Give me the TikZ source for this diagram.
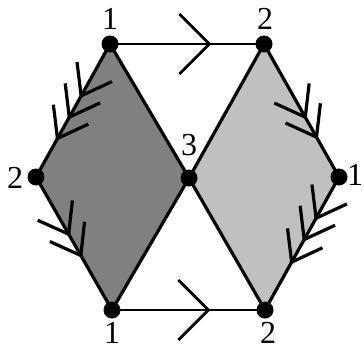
\documentclass[tikz,border=0pt]{standalone}
\usepackage{fontspec}
\setmainfont{Liberation Serif}
\newfontfamily\lblfont{Liberation Serif}
\usetikzlibrary{decorations.markings}
\tikzset{
  edge/.style={line width=3.2pt, line cap=round, line join=round},
  dot/.style={circle, fill=black, inner sep=0pt, minimum size=17pt},
  lbl/.style={font=\lblfont\fontsize{32}{32}\selectfont, inner sep=0pt},
  chev/.style={postaction={decorate, decoration={markings,
     mark=at position #1 with {\draw[line width=3.2pt, line cap=butt] (-27.5pt,20pt) -- (0pt,0pt) -- (-27.5pt,-20pt);}}}},
  bigchev/.style={postaction={decorate, decoration={markings,
     mark=at position #1 with {\draw[line width=2.8pt, line cap=butt] (-30pt,30pt) -- (0pt,0pt) -- (-30pt,-30pt);}}}}
}
\begin{document}
\begin{tikzpicture}[x=1pt,y=-1pt]
\useasboundingbox (0,0) rectangle (364,349);
\coordinate (tl) at (110,44);
\coordinate (tr) at (264,44);
\coordinate (l) at (36,177);
\coordinate (c) at (189,178);
\coordinate (r) at (339,177);
\coordinate (bl) at (112,310);
\coordinate (br) at (265,310);
% fills
\fill[fill={rgb,255:red,128;green,128;blue,128}] (tl) -- (c) -- (bl) -- (l) -- cycle;
\fill[fill={rgb,255:red,192;green,192;blue,192}] (tr) -- (r) -- (br) -- (c) -- cycle;
% plain edges
\draw[edge] (tl) -- (c) -- (bl);
\draw[edge] (tr) -- (c) -- (br);
% arrowed edges
\draw[edge, line width=2.8pt, bigchev=0.645] (tl) -- (tr);
\draw[edge, line width=2.8pt, bigchev=0.63] (bl) -- (br);
\draw[edge, chev=0.39, chev=0.55, chev=0.71] (tl) -- (l);
\draw[edge, chev=0.43, chev=0.59] (l) -- (bl);
\draw[edge, chev=0.55, chev=0.70] (tr) -- (r);
\draw[edge, chev=0.31, chev=0.47, chev=0.64] (r) -- (br);
% vertices
\node[dot] (dtl) at (tl) {};
\node[dot] (dtr) at (tr) {};
\node[dot] (dl) at (l) {};
\node[dot] (dc) at (c) {};
\node[dot] (dr) at (r) {};
\node[dot] (dbl) at (bl) {};
\node[dot] (dbr) at (br) {};
% labels
\node[lbl] (ltl) at (110,19) {1};
\node[lbl] (ltr) at (265,19) {2};
\node[lbl] (ll) at (15,178) {2};
\node[lbl] (lc) at (189,145) {3};
\node[lbl] (lr) at (355,175) {1};
\node[lbl] (lbl1) at (112,333) {1};
\node[lbl] (lbr) at (268,333) {2};
\end{tikzpicture}
\end{document}
